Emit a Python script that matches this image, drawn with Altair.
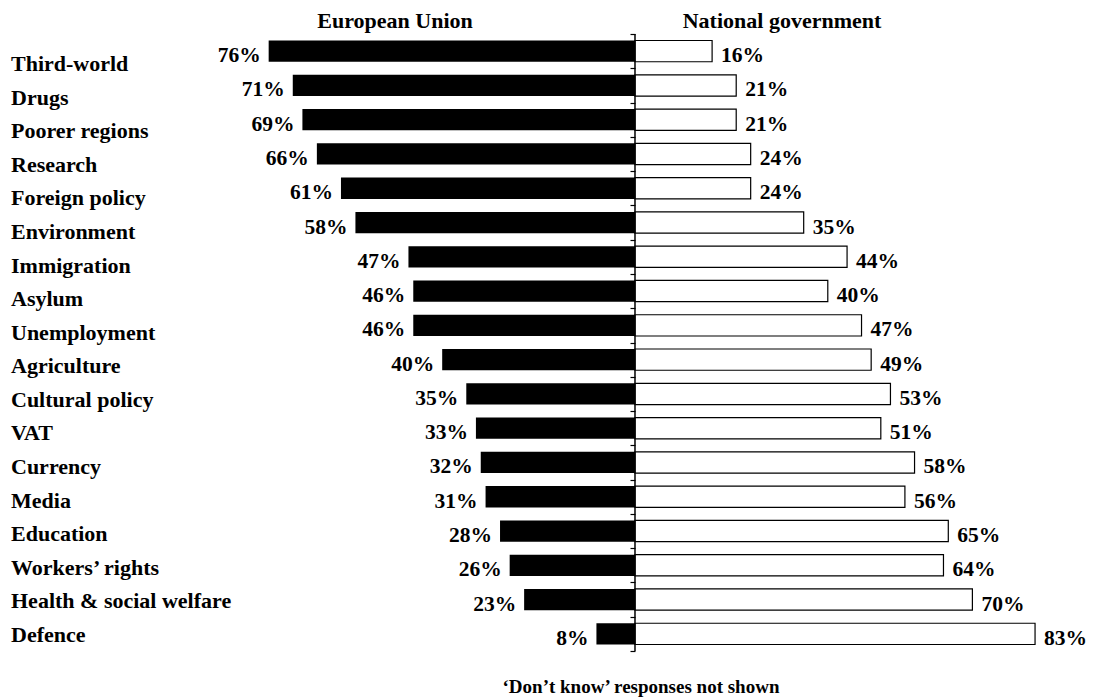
import altair as alt
import pandas as pd

categories = ["Third-world", "Drugs", "Poorer regions", "Research", "Foreign policy",
              "Environment", "Immigration", "Asylum", "Unemployment", "Agriculture",
              "Cultural policy", "VAT", "Currency", "Media", "Education",
              "Workers\u2019 rights", "Health & social welfare", "Defence"]
eu = [76, 71, 69, 66, 61, 58, 47, 46, 46, 40, 35, 33, 32, 31, 28, 26, 23, 8]
national = [16, 21, 21, 24, 24, 35, 44, 40, 47, 49, 53, 51, 58, 56, 65, 64, 70, 83]
headers = ["European Union", "National government"]
footnote = "\u2018Don\u2019t know\u2019 responses not shown"

df = pd.DataFrame({"category": categories, "eu": eu, "national": national})
n = len(categories)

FONT = "Liberation Serif"
W, H = 1078, 617

x_scale = alt.Scale(domain=[-130.08, 93.57], nice=False, zero=False)
y_band = alt.Y("category:N", sort=categories,
               scale=alt.Scale(paddingInner=0.38, paddingOuter=0.19), axis=None)

base = alt.Chart(df).transform_calculate(
    neg="-datum.eu",
    eu_label="datum.eu + '%'",
    nat_label="datum.national + '%'",
)

eu_bars = base.mark_bar(color="black").encode(
    x=alt.X("neg:Q", scale=x_scale, axis=None),
    x2=alt.datum(0),
    y=y_band,
)

nat_bars = base.mark_bar(fill="white", stroke="black", strokeWidth=1.2).encode(
    x=alt.X("national:Q", scale=x_scale, axis=None),
    x2=alt.datum(0),
    y=y_band,
)

txt = dict(font=FONT, fontWeight="bold", fontSize=22, color="black", baseline="alphabetic")
pct = dict(txt, fontSize=21.5)

eu_text = base.mark_text(align="right", dx=-8, dy=11, **pct).encode(
    x=alt.X("neg:Q", scale=x_scale, axis=None),
    y=y_band,
    text="eu_label:N",
)

nat_text = base.mark_text(align="left", dx=9, dy=11, **pct).encode(
    x=alt.X("national:Q", scale=x_scale, axis=None),
    y=y_band,
    text="nat_label:N",
)

cat_text = base.mark_text(align="left", **txt).encode(
    x=alt.value(3),
    y=alt.Y("category:N", sort=categories,
            scale=alt.Scale(type="point", range=[37, 608], padding=0), axis=None),
    text="category:N",
)

center = alt.Chart(pd.DataFrame({"b0": [0], "b1": [n]})).mark_rule(
    color="black", strokeWidth=1.5
).encode(
    x=alt.datum(0),
    y=alt.Y("b0:Q", scale=alt.Scale(domain=[0, n], nice=False),
            axis=alt.Axis(orient="left", values=list(range(n + 1)), labels=False,
                          tickSize=5, tickWidth=1.2, tickColor="black", domain=False,
                          grid=False, offset=-627, title=None)),
    y2="b1:Q",
)

hdr_eu = alt.Chart(pd.DataFrame({"t": [headers[0]]})).mark_text(
    align="center", **txt
).encode(x=alt.value(387), y=alt.value(-6), text="t:N")

hdr_nat = alt.Chart(pd.DataFrame({"t": [headers[1]]})).mark_text(
    align="center", **txt
).encode(x=alt.value(774), y=alt.value(-6), text="t:N")

foot = alt.Chart(pd.DataFrame({"t": [footnote]})).mark_text(
    align="center", font=FONT, fontWeight="bold", fontSize=19, color="black",
    baseline="alphabetic"
).encode(x=alt.value(633), y=alt.value(659), text="t:N")

chart = alt.layer(
    eu_bars, nat_bars, eu_text, nat_text, cat_text, center, hdr_eu, hdr_nat, foot
).resolve_scale(y="independent").properties(
    width=W, height=H,
    autosize=alt.AutoSizeParams(type="none"),
    padding={"left": 0, "right": 0, "top": 26, "bottom": 47},
).configure_view(strokeWidth=0)

chart.save("out.html", embed_options={"renderer": "svg", "actions": False})
